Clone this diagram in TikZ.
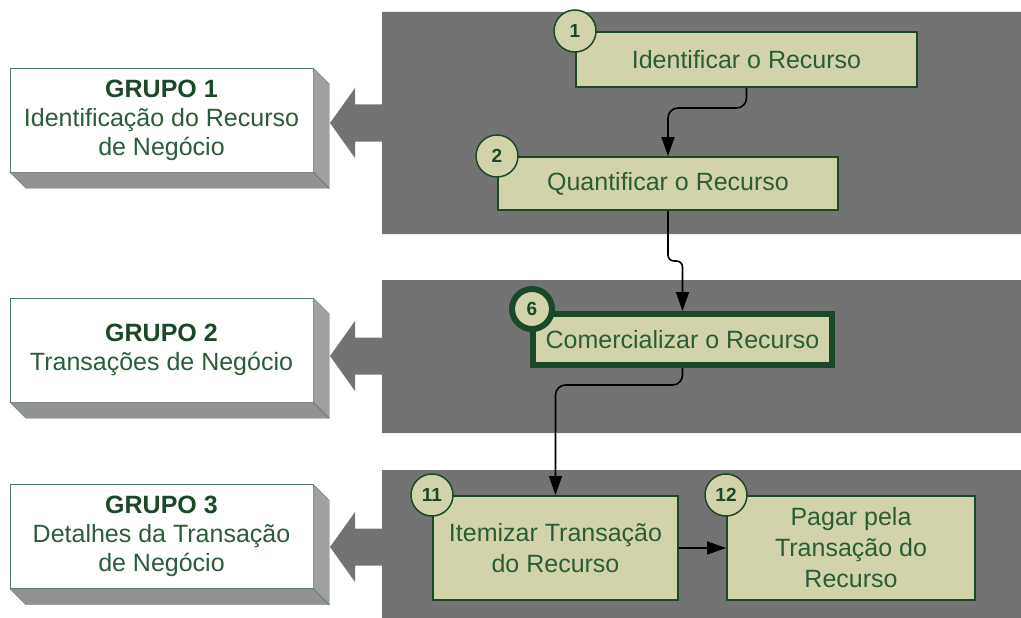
\documentclass[tikz,border=0pt]{standalone}
\usepackage{fontspec}
\setmainfont{Liberation Sans}
\usetikzlibrary{arrows.meta, positioning}
\definecolor{panelgray}{RGB}{115,115,115}
\definecolor{boxfill}{RGB}{211,211,170}
\definecolor{boxline}{RGB}{28,72,42}
\definecolor{textgreen}{RGB}{42,92,56}
\definecolor{grupoline}{RGB}{84,124,94}
\definecolor{sidegray}{RGB}{160,160,160}
\definecolor{bottomgray}{RGB}{146,146,146}
\tikzset{>={Triangle[length=19pt,width=13pt]}, % arrow heads of the links
task/.style={draw=boxline, line width=2pt, fill=boxfill, text=textgreen, align=center, inner sep=0pt, font=\fontsize{25}{31}\selectfont}, % one step of the process
tasknum/.style={circle, draw=boxline, line width=1.5pt, fill=boxfill, text=boxline, inner sep=0pt, minimum size=42pt, font=\bfseries\fontsize{19}{19}\selectfont}, % number on a step
grupo/.style={draw=grupoline, fill=white, text=textgreen, align=center, inner sep=0pt, minimum width=303pt, minimum height=104pt, font=\fontsize{25}{29}\selectfont}, % group label on the left
link/.style={->, line width=1.6pt, rounded corners=10pt}, % connector between steps
}
\begin{document}
\begin{tikzpicture}[x=1pt, y=-1pt]
    \useasboundingbox (0,0) rectangle (1021,618);
    % gray panels with their arrows to the left
    \foreach \top/\bot/\mid in {12/234/123, 280/433/356, 470/618/547}
        \fill[panelgray] (382,\top) -- (1021,\top) -- (1021,\bot) -- (382,\bot) -- (382,\mid+18.5) -- (355,\mid+18.5)
            -- (355,\mid+35) -- (330,\mid) -- (355,\mid-35) -- (355,\mid-18.5) -- (382,\mid-18.5) -- cycle;

    \node[grupo] (g1) at (161.5,120) {\textbf{\color{boxline}GRUPO 1}\\Identificação do Recurso\\de Negócio};
    \node[grupo] (g2) at (161.5,350) {\textbf{\color{boxline}GRUPO 2}\\Transações de Negócio};
    \node[grupo] (g3) at (161.5,536.5) {\textbf{\color{boxline}GRUPO 3}\\Detalhes da Transação\\de Negócio};
    \foreach \g in {g1,g2,g3} {
        \filldraw[fill=sidegray, draw=grupoline] (\g.north east) -- ([shift={(16,16)}]\g.north east) -- ([shift={(16,16)}]\g.south east) -- (\g.south east) -- cycle;
        \filldraw[fill=bottomgray, draw=grupoline] (\g.south west) -- ([shift={(16,16)}]\g.south west) -- ([shift={(16,16)}]\g.south east) -- (\g.south east) -- cycle;
    }

    \node[task, minimum width=341pt, minimum height=55pt] (b1) at (746.5,59.5) {Identificar o Recurso};
    \node[task, minimum width=340pt, minimum height=53pt] (b2) at (668,183.5) {Quantificar o Recurso};
    \node[task, line width=6pt, minimum width=299pt, minimum height=51pt] (b6) at (682.5,339.5) {Comercializar o Recurso};
    \node[task, minimum width=245pt, minimum height=104pt] (b11) at (555.5,548) {Itemizar Transação\\do Recurso};
    \node[task, minimum width=248pt, minimum height=104pt] (b12) at (851,548) {Pagar pela\\Transação do\\Recurso};

    \node[tasknum] (n1) at (b1.north west) {1};
    \node[tasknum] (n2) at (b2.north west) {2};
    \node[tasknum, line width=6pt, minimum size=40pt] (n6) at ([shift={(2,-2)}]b6.north west) {6};
    \node[tasknum] (n11) at (b11.north west) {11};
    \node[tasknum] (n12) at (b12.north west) {12};

    \draw[link] (b1.south) -- ++(0,20) -| (b2.north);
    \draw[link, rounded corners=6pt] (b2.south) -- ++(0,50) -| (b6.north);
    \draw[link] (b6.south) -- ++(0,17) -| (b11.north);
    \draw[link] (b11.east) -- (b12.west);
\end{tikzpicture}
\end{document}
